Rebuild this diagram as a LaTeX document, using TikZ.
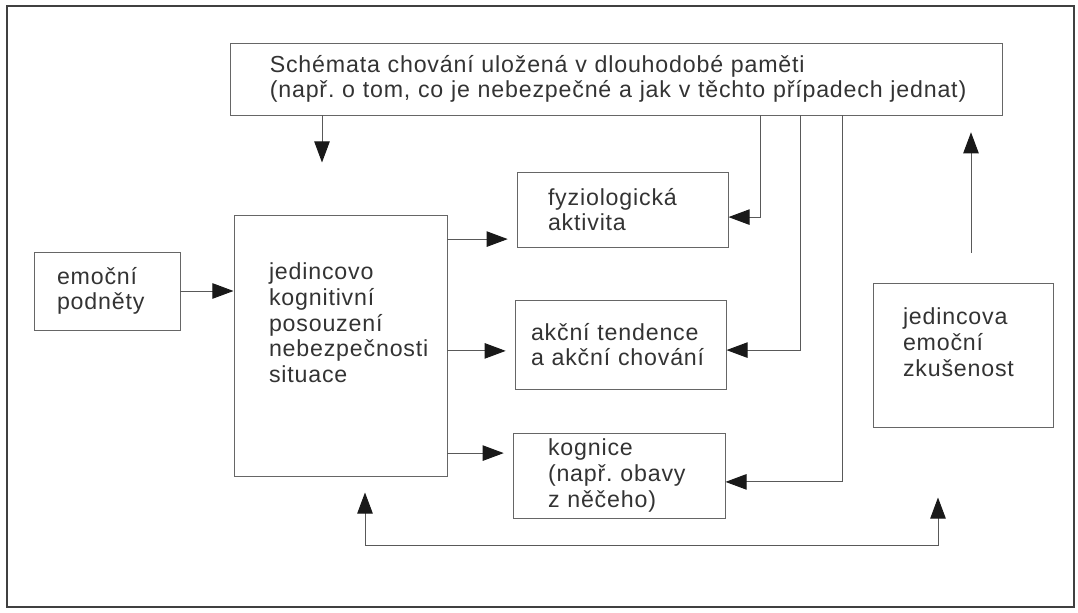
\documentclass[tikz,border=0pt]{standalone}
\usepackage{fontspec}
\setmainfont{Liberation Sans}[LetterSpace=3.5]
\frenchspacing
\usetikzlibrary{arrows.meta,positioning,calc}
\tikzset{boxed/.style={draw=black!60, line width=0.7pt, align=left, inner xsep=0pt, inner ysep=2pt, text=black!80, font=\fontsize{16.5}{18.3}\selectfont}}
\tikzset{arr/.style={draw=black!65, line width=0.7pt, -{Triangle[length=15pt,width=11pt,color=black!90]}}}
\tikzset{arrs/.style={draw=black!65, line width=0.7pt, {Triangle[length=15pt,width=11pt,color=black!90]}-{Triangle[length=15pt,width=11pt,color=black!90]}}}

\begin{document}
\begin{tikzpicture}
	\useasboundingbox (0,0) rectangle (26.95,15.325);
	\draw[black!75, line width=1.4pt] (0.175,0.15) rectangle (26.85,15.175);

	\node[boxed, minimum width=19.28cm, minimum height=1.8cm, text width=17.33cm] (schema) at (15.41,13.35){Schémata chování uložená v dlouhodobé paměti\\\mbox{(např. o tom, co je nebezpečné a jak v těchto případech jednat)}};
	\node[boxed, minimum width=3.65cm, minimum height=1.95cm, text width=2.5cm] (podnety) at (2.675,8.05){emoční\\podněty};
	\node[boxed, minimum width=5.325cm, minimum height=6.525cm, text width=3.575cm] (posouzeni) at (8.5125,6.6875){jedincovo\\kognitivní\\posouzení\\nebezpečnosti\\situace\\[14pt]\mbox{}};

	\node[boxed, minimum width=5.275cm, minimum height=1.875cm, text width=3.725cm] (fyzio) at (15.5625,10.0875){fyziologická\\aktivita};
	\node[boxed, minimum width=5.275cm, minimum height=2.225cm, text width=4.475cm] (akce) at (15.5125,6.7125){akční tendence\\a akční chování};
	\node[boxed, minimum width=5.3cm, minimum height=2.125cm, text width=3.55cm] (kognice) at (15.475,3.4375){kognice\\(např. obavy\\z něčeho)};

	\node[boxed, minimum width=4.5cm, minimum height=3.6cm, text width=3.0cm] (zkusenost) at (24.075,6.45){jedincova\\emoční\\zkušenost\\\mbox{}};

	\coordinate (x1) at (8.05,0);
	\coordinate (zk) at ([xshift=0.2cm]zkusenost.north);
	\coordinate (bl) at (9.125,1.7);
	\coordinate (br) at (23.45,1.7);

	\draw[arr, shorten >=1.3cm] (schema.south -| x1) -- (x1 |- posouzeni.north);
	\draw[arr] (podnety.east) -- (podnety.east -| posouzeni.west);

	\foreach \n/\dy in {fyzio/-0.74, akce/-0.16, kognice/0.56}{
		\coordinate (t) at ([yshift=\dy cm]\n.west);
		\draw[arr, shorten >=0.22cm] (posouzeni.east |- t) -- (t);
	}
	% zpetne vazby ze schemat
	\foreach \n/\xx/\dy in {fyzio/19/-0.19, akce/20/-0.14, kognice/21.05/-0.16}{
		\coordinate (t) at ([yshift=\dy cm]\n.east);
		\draw[arr] (\xx,0 |- schema.south) |- (t);
	}

	\draw[arr, shorten <=0.75cm, shorten >=0.42cm] (zk) -- (zk |- schema.south);
	\draw[arrs, shorten <=0.4cm, shorten >=1.75cm] (bl |- posouzeni.south) -- (bl) -- (br) -- (br |- zkusenost.south);
\end{tikzpicture}
\end{document}
